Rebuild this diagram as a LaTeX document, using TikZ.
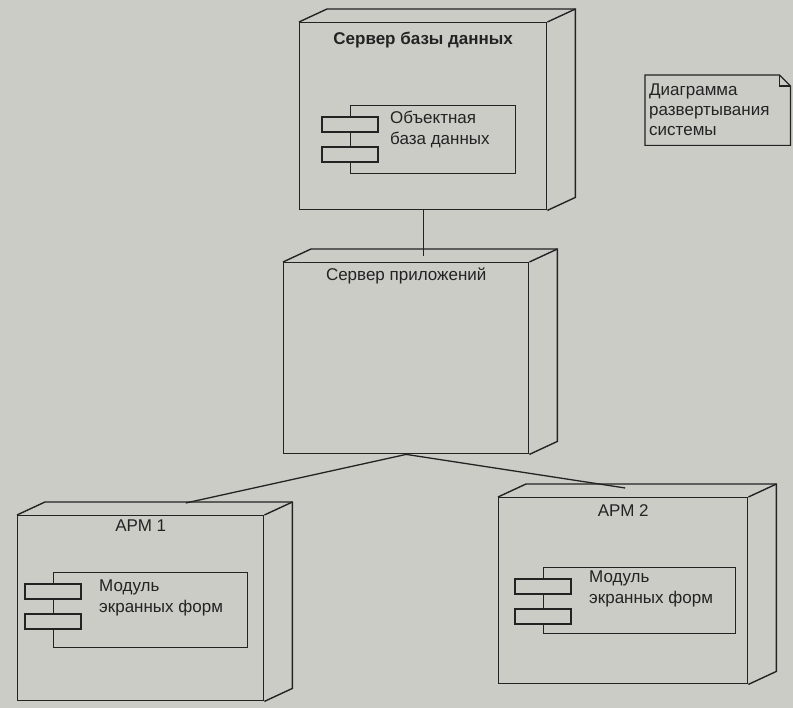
\documentclass[tikz,border=0pt]{standalone}
\usepackage{fontspec}
\setmainfont{Liberation Sans}
\usetikzlibrary{positioning, calc}
\definecolor{paper}{RGB}{204,204,199}
\definecolor{ink}{RGB}{35,35,35}
\tikzset{
  edge/.style={draw=ink, line width=1.4pt},
  devnode/.style={rectangle, draw=ink, fill=paper, line width=1.4pt,
    anchor=north west, minimum width=247pt, minimum height=187pt, inner sep=0pt},
  comp/.style={rectangle, draw=ink, fill=paper, line width=1.3pt,
    anchor=north west, inner sep=0pt},
  title/.style={font=\fontsize{17}{21}\selectfont, text=ink, inner sep=0pt},
  comptext/.style={font=\fontsize{17}{21}\selectfont, text=ink, align=left, inner sep=0pt},
  notebox/.style={rectangle, anchor=north west, text width=137pt, minimum height=70pt,
    align=left, inner sep=4pt, font=\fontsize{17}{20}\selectfont, text=ink},
  link/.style={draw=ink, line width=1.3pt}
}
% back faces of a device node
\newcommand{\nodedepth}[1]{
  \draw[edge] (#1.north west) -- ++(28,-13) -| ($(#1.south east)+(28,-13)$) -- (#1.south east);
  \draw[edge] (#1.north east) -- ++(28,-13);
}
% the two tabs of a component
\newcommand{\comptabs}[1]{
  \draw[edge, line width=1.3pt, fill=paper] ($(#1.north west)+(-28,12)$) rectangle ++(56,15);
  \draw[edge, line width=1.3pt, fill=paper] ($(#1.north west)+(-28,42)$) rectangle ++(56,15);
}

\begin{document}
\begin{tikzpicture}[x=1pt, y=-1pt]
  \fill[paper] (0,0) rectangle (793,708);
  \useasboundingbox (0,0) rectangle (793,708);

  % device nodes
  \node[devnode] (db) at (299,22) {};
  \node[devnode, minimum width=245pt, minimum height=191pt] (app) at (283,262) {};
  \node[devnode, minimum width=246pt, minimum height=185pt] (apm1) at (17,515) {};
  \node[devnode, minimum width=249pt, minimum height=186pt] (apm2) at (498,497) {};
  \nodedepth{db}
  \nodedepth{app}
  \nodedepth{apm1}
  \nodedepth{apm2}

  % node names
  \node[title, font=\fontsize{17}{21}\selectfont\bfseries, below=10pt of db.north] (dbtitle) {Сервер базы данных};
  \node[title, below=6pt of app.north] (apptitle) {Сервер приложений};
  \node[title, below=5pt of apm1.north] (apm1title) {АРМ 1};
  \node[title, below=7pt of apm2.north] (apm2title) {АРМ 2};

  % components
  \node[comp, minimum width=165pt, minimum height=68pt] (objdb) at (350,105) {};
  \node[comp, minimum width=194pt, minimum height=75pt] (forms1) at (53,572) {};
  \node[comp, minimum width=192pt, minimum height=66pt] (forms2) at (543,567) {};
  \comptabs{objdb}
  \comptabs{forms1}
  \comptabs{forms2}
  \node[comptext, below right=6pt and 40pt of objdb.north west] (objdbtext) {Объектная\\база данных};
  \node[comptext, below right=8pt and 46pt of forms1.north west] (forms1text) {Модуль\\экранных форм};
  \node[comptext, below right=4pt and 46pt of forms2.north west] (forms2text) {Модуль\\экранных форм};

  % note
  \node[notebox] (note) at (645,75) {Диаграмма\\развертывания\\системы};
  \draw[edge, line width=1.2pt] ($(note.north east)+(-11,0)$) -- (note.north west) -- (note.south west)
    -- (note.south east) -- ($(note.north east)+(0,11)$) -- cycle;
  \draw[edge, line width=1.2pt] ($(note.north east)+(-11,0)$) -- ++(0,11) -- ++(11,0);

  % connections
  \coordinate (apptop) at ($(db.south |- app.north)+(0,-6)$);
  \coordinate (apm1top) at ($(apm1.north)+(45,-12)$);
  \coordinate (apm2top) at ($(apm2.north)+(2,-9)$);
  \draw[link] (db.south) -- (apptop);
  \draw[link] (app.south) -- (apm1top);
  \draw[link] (app.south) -- (apm2top);
\end{tikzpicture}
\end{document}
